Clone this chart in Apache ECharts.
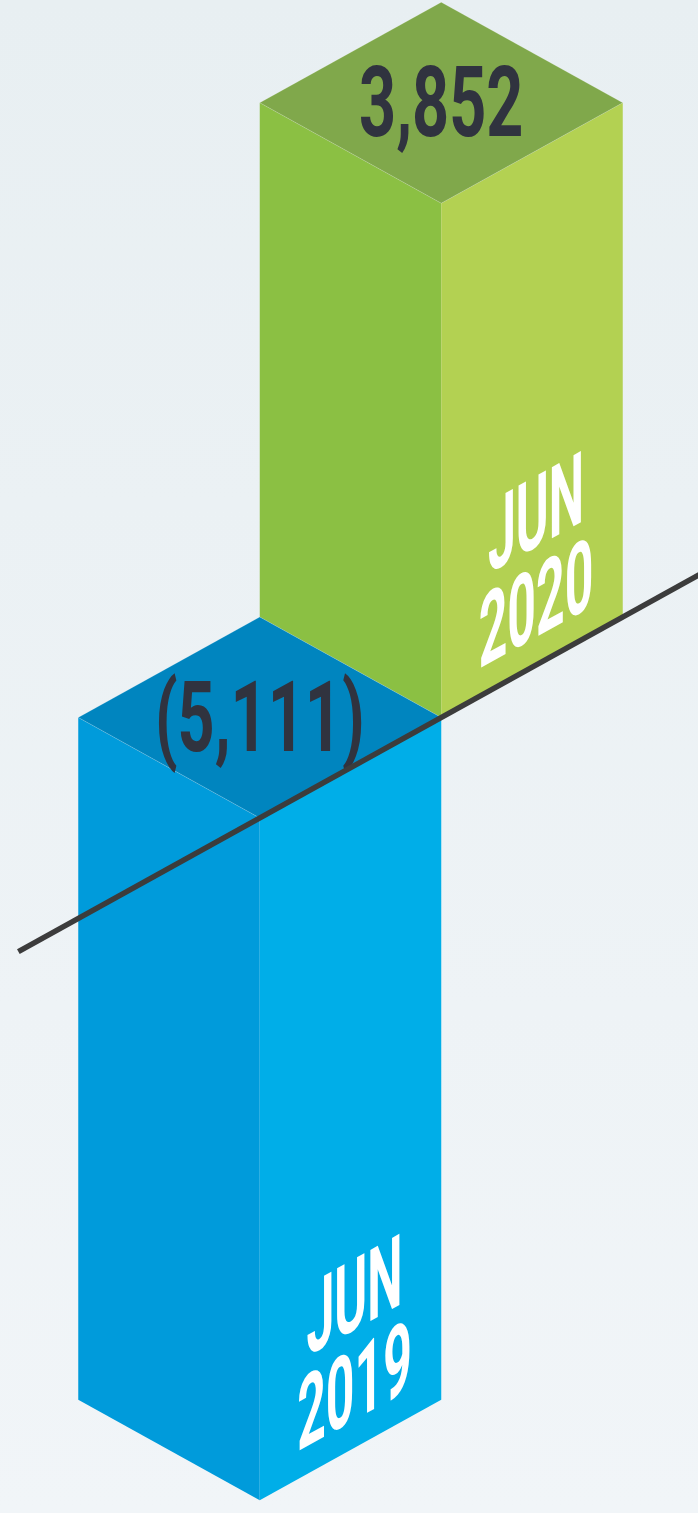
<!DOCTYPE html>
<html>
<head>
<meta charset="utf-8">
<script src="https://cdn.jsdelivr.net/npm/echarts@6/dist/echarts.min.js"></script>
<style>
  html, body { margin: 0; padding: 0; }
  #main { width: 698px; height: 1513px; }
</style>
</head>
<body>
<div id="main"></div>
<script>
// data
const months = ['JUN\n2019', 'JUN\n2020'];
const changes = [-5111, 3852];
const valueLabels = ['(5,111)', '3,852'];

// face colours per bar
const barColors = [
  { top: '#0085bf', left: '#009bdb', right: '#00aee8' },
  { top: '#80a84b', left: '#8bc043', right: '#b3d152' }
];
const ISO = 100.5 / 181.5;   // isometric slope
const DATE_SCALE = 0.5;      // condensed look for the face labels

// 2x2 svd so the skewed label can be built from rotate/scale/rotate
function svd2(a, b, c, d) {
  const E = (a + d) / 2, F = (a - d) / 2, G = (c + b) / 2, H = (c - b) / 2;
  const Q = Math.sqrt(E * E + H * H), R = Math.sqrt(F * F + G * G);
  const a1 = Math.atan2(G, F), a2 = Math.atan2(H, E);
  return { sx: Q + R, sy: Q - R, theta: (a2 - a1) / 2, phi: (a2 + a1) / 2 };
}
const skew = svd2(DATE_SCALE, 0, -ISO * DATE_SCALE, 1);

function renderBar(params, api) {
  const i = api.value(0);
  const v = api.value(1);
  const first = api.coord([0, 0]);
  const base = api.coord([i, 0]);
  const tip = api.coord([i, v]);
  const w = api.size([1, 0])[0];
  const h = w * ISO;
  const shift = -(base[0] - first[0]) * ISO;
  const x = base[0];
  const top = Math.min(base[1], tip[1]) + shift;
  const bottom = Math.max(base[1], tip[1]) + shift;
  const col = barColors[i];
  const z = (changes.length - i) * 10;

  // label anchor near the bottom of the right face
  const xa = x + w / 2 + 4;
  const ya = bottom - (xa - x) * ISO - 8;

  return {
    type: 'group',
    children: [
      {
        type: 'polygon', z2: z,
        shape: { points: [[x - w, top - h], [x, top], [x, bottom], [x - w, bottom - h]] },
        style: { fill: col.left }
      },
      {
        type: 'polygon', z2: z,
        shape: { points: [[x, top], [x + w, top - h], [x + w, bottom - h], [x, bottom]] },
        style: { fill: col.right }
      },
      {
        type: 'polygon', z2: z + 1,
        shape: { points: [[x, top], [x - w, top - h], [x, top - 2 * h], [x + w, top - h]] },
        style: { fill: col.top, stroke: 'rgba(255,255,255,0.18)', lineWidth: 1 }
      },
      {
        type: 'text', z2: z + 2,
        x: x, y: top - h + 9, scaleX: 0.66,
        style: {
          text: valueLabels[params.dataIndex],
          fill: '#30333f',
          fontFamily: 'Roboto', fontWeight: 'bold', fontSize: 98,
          align: 'center', verticalAlign: 'middle'
        }
      },
      {
        type: 'group',
        x: xa, y: ya,
        rotation: -skew.phi, scaleX: skew.sx, scaleY: skew.sy,
        children: [{
          type: 'text', z2: z + 2,
          rotation: -skew.theta,
          style: {
            text: months[params.dataIndex],
            fill: '#ffffff',
            fontFamily: 'Roboto', fontWeight: 'bold', fontSize: 100,
            lineHeight: 90,
            align: 'center', verticalAlign: 'bottom'
          }
        }]
      }
    ]
  };
}

// zero baseline drawn along the isometric direction
function renderBaseline(params, api) {
  const p = api.coord([0, 0]);
  const w = api.size([1, 0])[0];
  const t0 = -1.33, t1 = 3;
  return {
    type: 'line',
    shape: {
      x1: p[0] + t0 * w, y1: p[1] - t0 * w * ISO,
      x2: p[0] + t1 * w, y2: p[1] - t1 * w * ISO
    },
    style: { stroke: '#3c3c3c', lineWidth: 5.5 }
  };
}

const chart = echarts.init(document.getElementById('main'), null, { renderer: 'canvas' });

const option = {
  animation: false,
  backgroundColor: {
    type: 'linear', x: 0, y: 0, x2: 0, y2: 1,
    colorStops: [
      { offset: 0, color: '#e8eff2' },
      { offset: 1, color: '#f1f5f8' }
    ]
  },
  grid: { left: 169, width: 363, top: 0, bottom: 0 },
  xAxis: { type: 'category', data: months, show: false },
  yAxis: { type: 'value', min: -5206, max: 6127, show: false },
  series: [
    {
      type: 'custom',
      renderItem: renderBar,
      encode: { x: 0, y: 1 },
      data: changes.map((v, i) => [i, v])
    },
    {
      type: 'custom',
      z: 5,
      renderItem: renderBaseline,
      encode: { x: 0, y: 1 },
      data: [[0, 0]]
    }
  ]
};

chart.setOption(option);
</script>
</body>
</html>
